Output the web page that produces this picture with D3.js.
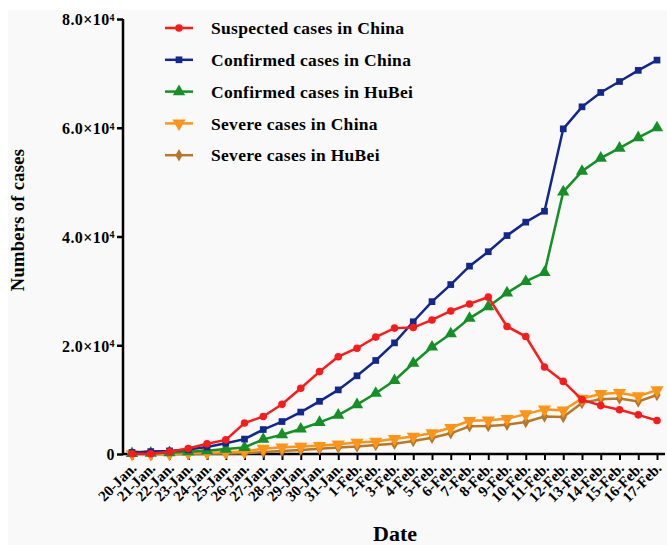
<!DOCTYPE html>
<html>
<head>
<meta charset="utf-8">
<script src="https://cdn.jsdelivr.net/npm/d3@7"></script>
<style>
  html, body { margin: 0; padding: 0; background: #fff; }
  svg { display: block; font-family: "Liberation Serif", "Times New Roman", serif; font-weight: bold; }
</style>
</head>
<body>
<svg id="chart" width="667" height="545"></svg>
<script>
// data
const dates = ["20-Jan.", "21-Jan.", "22-Jan.", "23-Jan.", "24-Jan.", "25-Jan.", "26-Jan.", "27-Jan.",
  "28-Jan.", "29-Jan.", "30-Jan.", "31-Jan.", "1-Feb.", "2-Feb.", "3-Feb.", "4-Feb.", "5-Feb.",
  "6-Feb.", "7-Feb.", "8-Feb.", "9-Feb.", "10-Feb.", "11-Feb.", "12-Feb.", "13-Feb.", "14-Feb.",
  "15-Feb.", "16-Feb.", "17-Feb."];

const suspectedChina = [50, 40, 400, 1000, 1900, 2600, 5700, 6900, 9150, 12100, 15150, 17900, 19450,
  21500, 23150, 23250, 24650, 26300, 27600, 28850, 23450, 21600, 16000, 13350, 10000, 8900, 8150, 7200, 6150];
const confirmedChina = [290, 440, 570, 830, 1290, 1980, 2740, 4500, 5970, 7710, 9690, 11790, 14380,
  17200, 20440, 24320, 28020, 31160, 34550, 37200, 40170, 42640, 44650, 59800, 63850, 66490, 68500, 70550, 72440];
const confirmedHubei = [100, 150, 250, 400, 600, 900, 1200, 2700, 3550, 4590, 5810, 7150, 9070,
  11180, 13520, 16680, 19670, 22110, 24950, 27100, 29630, 31730, 33370, 48210, 51990, 54410, 56250, 58180, 59990];
const severeChina = [0, 0, 0, 180, 240, 320, 460, 980, 1240, 1370, 1530, 1800, 2110,
  2300, 2790, 3220, 3860, 4820, 6100, 6190, 6480, 7330, 8200, 8030, 10200, 11050, 11270, 10640, 11740];
const severeHubei = [0, 0, 0, 0, 50, 100, 150, 350, 550, 750, 950, 1200, 1400,
  1650, 1900, 2400, 3000, 3800, 5100, 5150, 5400, 5900, 6900, 6800, 9400, 10050, 10200, 9650, 10850];

const yTicks = [0, 20000, 40000, 60000, 80000];

const series = [
  { name: "Suspected cases in China", values: suspectedChina, color: "#ff1a1a", symbol: d3.symbolCircle, size: 45, rot: 0 },
  { name: "Confirmed cases in China", values: confirmedChina, color: "#13288f", symbol: d3.symbolSquare, size: 45, rot: 0 },
  { name: "Confirmed cases in HuBei", values: confirmedHubei, color: "#139124", symbol: d3.symbolTriangle, size: 65, rot: 0 },
  { name: "Severe cases in China", values: severeChina, color: "#ff9416", symbol: d3.symbolTriangle, size: 75, rot: 180 },
  { name: "Severe cases in HuBei", values: severeHubei, color: "#b7782a", symbol: d3.symbolDiamond, size: 45, rot: 0 }
];

const svg = d3.select("#chart");

// faint grey backdrop like the source image
svg.append("rect").attr("x", 8).attr("y", 10).attr("width", 659).attr("height", 535).attr("fill", "#f9f9f9");

const x = d3.scalePoint().domain(dates).range([132, 657]);
const y = d3.scaleLinear().domain([0, 80000]).range([454, 19]);

// y axis
const yAxis = svg.append("g")
  .attr("transform", "translate(123,0)")
  .call(d3.axisLeft(y).tickValues(yTicks).tickSize(6).tickFormat(""))
  .attr("font-family", null).attr("font-size", null);
yAxis.select(".domain").attr("d", "M0,19V454").attr("stroke-width", 2.5);
yAxis.selectAll(".tick line").attr("stroke-width", 2.5);

const yLab = yAxis.selectAll(".tick").append("text")
  .attr("x", -8).attr("dy", "0.36em")
  .attr("fill", "#000").attr("text-anchor", "end")
  .style("font-size", "16px")
  .style("letter-spacing", "0.4px");
yLab.each(function(d) {
  const t = d3.select(this);
  if (d === 0) { t.text("0"); return; }
  t.append("tspan").text((d / 10000).toFixed(1) + "\u00d710");
  t.append("tspan").attr("dy", "-0.45em").style("font-size", "10px").text("4");
});

// x axis
const xAxis = svg.append("g")
  .attr("transform", "translate(0,454)")
  .call(d3.axisBottom(x).tickSize(6).tickFormat(""))
  .attr("font-family", null).attr("font-size", null);
xAxis.select(".domain").attr("d", "M123,0H665").attr("stroke-width", 2.5);
xAxis.selectAll(".tick line").attr("stroke-width", 2);
xAxis.selectAll(".tick").append("text")
  .attr("fill", "#000")
  .attr("text-anchor", "end")
  .attr("transform", "translate(5,15) rotate(-45)")
  .style("font-size", "15px")
  .text(d => d);

// axis titles
svg.append("text")
  .attr("transform", "translate(24,220) rotate(-90)")
  .attr("text-anchor", "middle")
  .style("font-size", "18.5px")
  .style("letter-spacing", "0.3px")
  .text("Numbers of cases");

svg.append("text")
  .attr("x", 395).attr("y", 541)
  .attr("text-anchor", "middle")
  .style("font-size", "22px")
  .text("Date");

// lines and markers, drawn bottom-up so red ends on top
const line = d3.line().x((d, i) => x(dates[i])).y(d => y(d));
const drawOrder = [4, 3, 2, 1, 0];
drawOrder.forEach(k => {
  const s = series[k];
  const g = svg.append("g");
  g.append("path")
    .attr("d", line(s.values))
    .attr("fill", "none")
    .attr("stroke", s.color)
    .attr("stroke-width", 2.5);
  g.selectAll("path.pt")
    .data(s.values)
    .join("path")
    .attr("class", "pt")
    .attr("d", d3.symbol().type(s.symbol).size(s.size))
    .attr("transform", (d, i) => `translate(${x(dates[i])},${y(d)}) rotate(${s.rot})`)
    .attr("fill", s.color);
});

// legend
const legend = svg.append("g");
series.forEach((s, i) => {
  const cy = 28 + i * 31.8;
  legend.append("line")
    .attr("x1", 165).attr("x2", 193).attr("y1", cy).attr("y2", cy)
    .attr("stroke", s.color).attr("stroke-width", 2.5);
  legend.append("path")
    .attr("d", d3.symbol().type(s.symbol).size(s.size))
    .attr("transform", `translate(179,${cy}) rotate(${s.rot})`)
    .attr("fill", s.color);
  legend.append("text")
    .attr("x", 211).attr("y", cy).attr("dy", "0.35em")
    .style("font-size", "17.5px")
    .style("letter-spacing", "0.3px")
    .text(s.name);
});
</script>
</body>
</html>
